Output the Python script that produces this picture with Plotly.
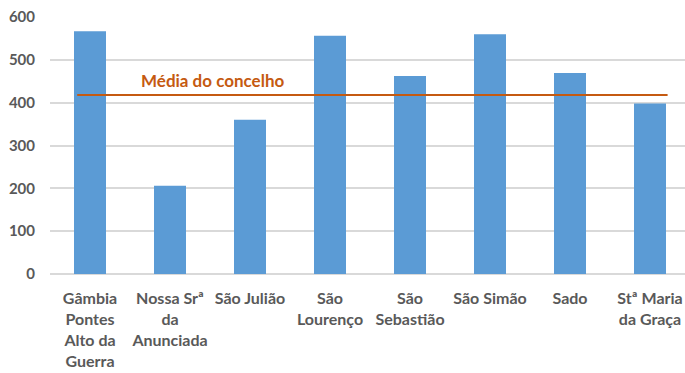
import plotly.graph_objects as go

# Freguesias and their values
freguesias = [
    "Gâmbia<br>Pontes<br>Alto da<br>Guerra",
    "Nossa Srª<br>da<br>Anunciada",
    "São Julião",
    "São<br>Lourenço",
    "São<br>Sebastião",
    "São Simão",
    "Sado",
    "Stª Maria<br>da Graça",
]
valores = [567, 206, 360, 556, 462, 560, 469, 398]
media_concelho = 418
media_label = "Média do concelho"

y_ticks = [0, 100, 200, 300, 400, 500, 600]

BAR_COLOR = "#5B9BD5"
LINE_COLOR = "#C55A11"
TEXT_COLOR = "#595959"
GRID_COLOR = "#D9D9D9"
FONT = "Lato"

fig = go.Figure()

fig.add_trace(go.Bar(
    x=list(range(len(freguesias))),
    y=valores,
    width=0.4,
    marker=dict(color=BAR_COLOR, line=dict(width=0)),
    showlegend=False,
    hoverinfo="y",
))

# Municipal average as a horizontal reference line
fig.add_shape(
    type="line", xref="x", yref="y",
    x0=-0.16, x1=len(freguesias) - 1 + 0.22,
    y0=media_concelho, y1=media_concelho,
    line=dict(color=LINE_COLOR, width=2),
)
fig.add_annotation(
    x=1.53, y=media_concelho, xref="x", yref="y",
    text=f"<b>{media_label}</b>", showarrow=False,
    yshift=14, font=dict(family=FONT, size=17, color=LINE_COLOR),
)

fig.update_layout(
    width=685, height=373,
    margin=dict(l=50, r=0, t=17, b=99),
    paper_bgcolor="white", plot_bgcolor="white",
    font=dict(family=FONT, size=15, color=TEXT_COLOR),
    bargap=0.6,
)

fig.update_xaxes(
    tickmode="array",
    tickvals=list(range(len(freguesias))),
    ticktext=[f"<b>{t}</b>" for t in freguesias],
    range=[-0.5, 7.4375],
    showgrid=False, zeroline=False, showline=False,
    tickangle=0,
    ticks="outside", ticklen=10, tickcolor="rgba(0,0,0,0)",
    tickfont=dict(family=FONT, size=16, color=TEXT_COLOR),
)
fig.update_yaxes(
    range=[0, 600],
    tickmode="array", tickvals=y_ticks,
    ticktext=[f"<b>{v}</b>" for v in y_ticks],
    showgrid=True, gridcolor=GRID_COLOR, gridwidth=1.5,
    zeroline=True, zerolinecolor=GRID_COLOR, zerolinewidth=1.5,
    showline=False,
    ticklabelstandoff=14,
    tickfont=dict(family=FONT, size=15, color=TEXT_COLOR),
)

fig.write_html("out.html")
